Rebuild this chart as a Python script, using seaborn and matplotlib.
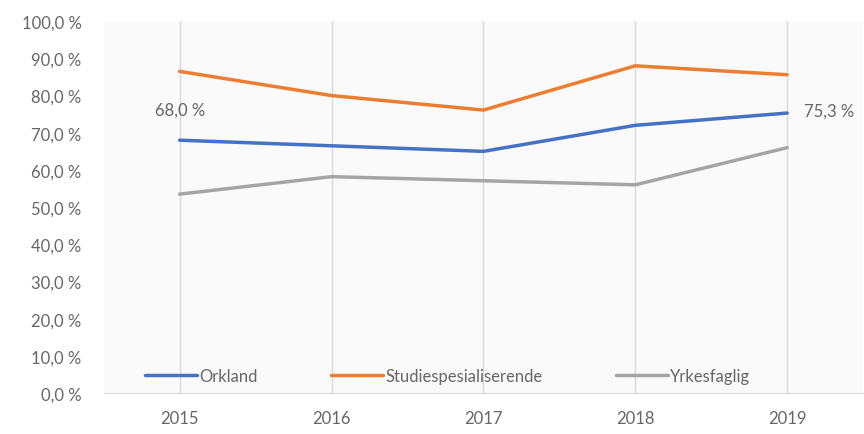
import pandas as pd
import numpy as np
import matplotlib.pyplot as plt
import seaborn as sns

# ----------- Data -----------
years = [2015, 2016, 2017, 2018, 2019]
orkland = [68.0, 66.5, 65.0, 72.0, 75.3]
studiespes = [86.5, 80.0, 76.1, 88.0, 85.6]
yrkesfaglig = [53.5, 58.2, 57.1, 56.0, 66.0]
series_names = ["Orkland", "Studiespesialiserende", "Yrkesfaglig"]
colors = ["#4472C4", "#ED7D31", "#A5A5A5"]
y_ticks = [0, 10, 20, 30, 40, 50, 60, 70, 80, 90, 100]

df = pd.DataFrame({
    "year": years * 3,
    "value": orkland + studiespes + yrkesfaglig,
    "series": [series_names[0]] * 5 + [series_names[1]] * 5 + [series_names[2]] * 5,
})

def pct(v):
    return f"{v:.1f} %".replace(".", ",")

sns.set_style("white")
plt.rcParams["font.family"] = ["Lato", "DejaVu Sans"]
text_col = "#666666"

fig = plt.figure(figsize=(8.64, 4.35), dpi=100)
ax = fig.add_axes([0.120, 0.094, 0.879, 0.855])
ax.set_facecolor("#fafafa")

sns.lineplot(data=df, x="year", y="value", hue="series", palette=colors,
             hue_order=series_names, linewidth=2.5, ax=ax, zorder=3)

ax.set_xlim(years[0] - 0.5, years[-1] + 0.5)
ax.set_ylim(0, 100)
ax.set_xticks(years)
ax.set_xticklabels([str(y) for y in years])
ax.set_yticks(y_ticks)
ax.set_yticklabels([pct(v) for v in y_ticks])
ax.set_xlabel("")
ax.set_ylabel("")

# vertical gridlines at each category
ax.grid(axis="x", color="#d9d9d9", linewidth=1)
ax.grid(axis="y", visible=False)
for s in ["left", "right", "top"]:
    ax.spines[s].set_visible(False)
ax.spines["bottom"].set_color("#d9d9d9")
ax.tick_params(axis="y", length=0, pad=16, labelsize=12, labelcolor=text_col)
ax.tick_params(axis="x", length=0, pad=12, labelsize=12, labelcolor=text_col)

# data labels for first and last Orkland point
ax.annotate(pct(orkland[0]), (years[0], orkland[0]), xytext=(0, 22),
            textcoords="offset points", ha="center", va="center",
            fontsize=12, color=text_col)
ax.annotate(pct(orkland[-1]), (years[-1], orkland[-1]), xytext=(12, 2),
            textcoords="offset points", ha="left", va="center",
            fontsize=12, color=text_col, annotation_clip=False)

handles, labels = ax.get_legend_handles_labels()
ax.legend(handles, labels, loc="lower left", bbox_to_anchor=(0.035, -0.015),
          ncol=3, frameon=False, fontsize=12, handlelength=3.1,
          handletextpad=0.15, columnspacing=4.4, labelcolor=text_col)

plt.savefig("out.png", dpi=100)
